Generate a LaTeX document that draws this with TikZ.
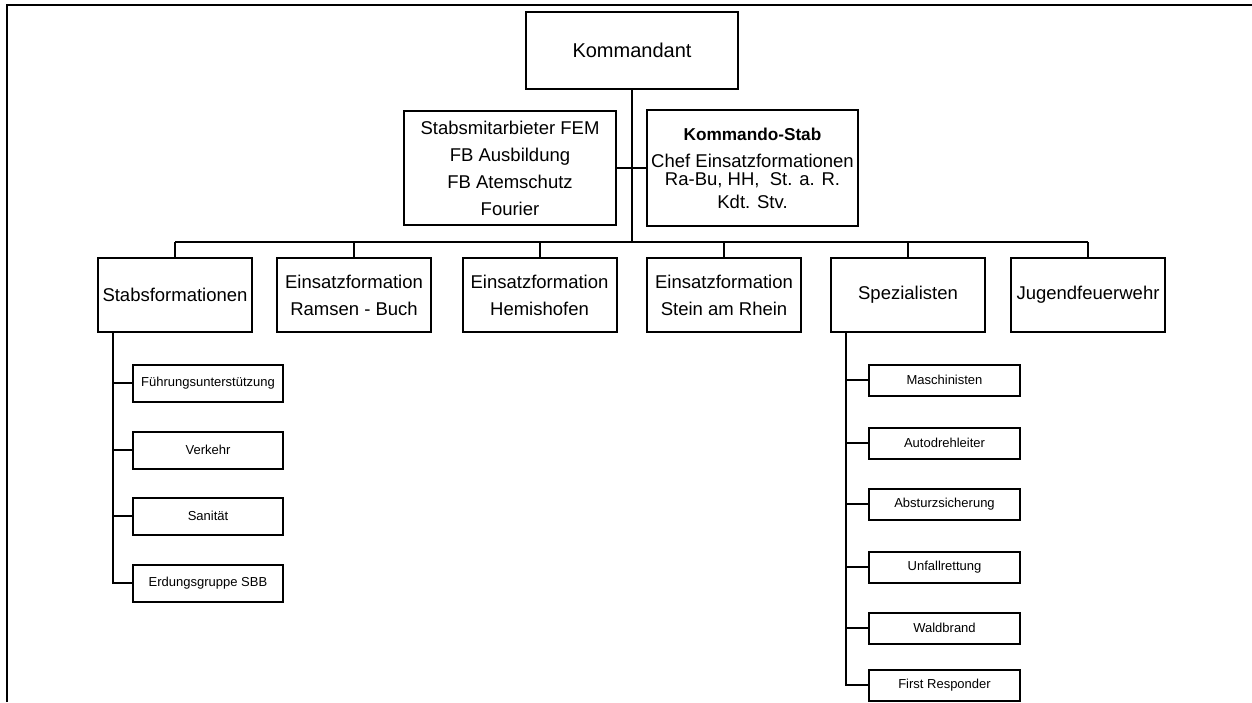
\documentclass[tikz,border=0pt]{standalone}
\usepackage{fontspec}
\setmainfont{Liberation Sans}
\usetikzlibrary{positioning}

\begin{document}
\begin{tikzpicture}[x=0.5pt, y=-0.5pt, line width=1pt,
    kasten/.style={draw, line width=1pt, align=center, inner sep=0pt, font=\fontsize{9.25}{13.5}\selectfont},
    stufe/.style={kasten, minimum width=77pt, minimum height=37pt},
    klein/.style={draw, line width=1pt, inner sep=0pt, font=\fontsize{6.5}{8}\selectfont}]
            \useasboundingbox (0,0) rectangle (1252,702);
            % Rahmen oben und links
            \draw[line width=1.2pt] (7,702) -- (7,5) -- (1252,5);

            % Kommandant und Stab
            \node[kasten, minimum width=106pt, minimum height=38.5pt, font=\fontsize{10}{12}\selectfont] (kdt) at (632,50.5) {Kommandant};
            \node[kasten, minimum width=106pt, minimum height=57pt] (mitarb) at (510,168) {Stabsmitarbieter FEM\\ FB Ausbildung\\ FB Atemschutz\\ Fourier};
            \node[kasten, minimum width=105.5pt, minimum height=58pt] (kstab) at (752.5,168) {{\fontsize{8.6}{13.5}\selectfont\bfseries Kommando-Stab}\\ Chef Einsatzformationen\\[-4.5pt] Ra-Bu, HH,~ St. a. R.\\[-2pt] Kdt. Stv.};

            % Zweite Ebene
            \node[stufe] (stabsf) at (175,295) {Stabsformationen};
            \node[stufe] (ramsen) at (354,295) {Einsatzformation\\ Ramsen - Buch};
            \node[stufe] (hemi) at (539.5,295) {Einsatzformation\\ Hemishofen};
            \node[stufe] (stein) at (724,295) {Einsatzformation\\ Stein am Rhein};
            \node[stufe] (spez) at (908,295) {Spezialisten};
            \node[stufe] (jugend) at (1088,295) {Jugendfeuerwehr};

            % Stabsformationen
            \node[klein, minimum width=75pt, minimum height=18.5pt] (fuehrung) at (208,383) {Führungsunterstützung};
            \node[klein, minimum width=75pt, minimum height=18.5pt] (verkehr) at (208,450) {Verkehr};
            \node[klein, minimum width=75pt, minimum height=18.5pt] (sanitaet) at (208,516) {Sanität};
            \node[klein, minimum width=75pt, minimum height=18.5pt] (erdung) at (208,583) {Erdungsgruppe SBB};

            % Spezialisten
            \node[klein, minimum width=75.5pt, minimum height=15.5pt] (masch) at (944.5,380) {Maschinisten};
            \node[klein, minimum width=75.5pt, minimum height=15.5pt] (adl) at (944.5,443) {Autodrehleiter};
            \node[klein, minimum width=75.5pt, minimum height=15.5pt] (absturz) at (944.5,504) {Absturzsicherung};
            \node[klein, minimum width=75.5pt, minimum height=15.5pt] (unfall) at (944.5,567) {Unfallrettung};
            \node[klein, minimum width=75.5pt, minimum height=15.5pt] (wald) at (944.5,628) {Waldbrand};
            \node[klein, minimum width=75.5pt, minimum height=15.5pt] (first) at (944.5,685) {First Responder};

            % Verbindungen
            \coordinate (bus) at (632,242);
            \draw (kdt.south) -- (bus);
            \draw (mitarb.east) -- (kstab.west);
            \draw (stabsf.north |- bus) -- (jugend.north |- bus);
            \foreach \n in {stabsf, ramsen, hemi, stein, spez, jugend}
                \draw (\n.north) -- (\n.north |- bus);

            \coordinate (astlinks) at ([xshift=8pt]stabsf.south west);
            \draw (astlinks) |- (erdung.west);
            \foreach \n in {fuehrung, verkehr, sanitaet}
                \draw (\n.west) -- (\n.west -| astlinks);

            \coordinate (astrechts) at ([xshift=8pt]spez.south west);
            \draw (astrechts) |- (first.west);
            \foreach \n in {masch, adl, absturz, unfall, wald}
                \draw (\n.west) -- (\n.west -| astrechts);
        \end{tikzpicture}
\end{document}
